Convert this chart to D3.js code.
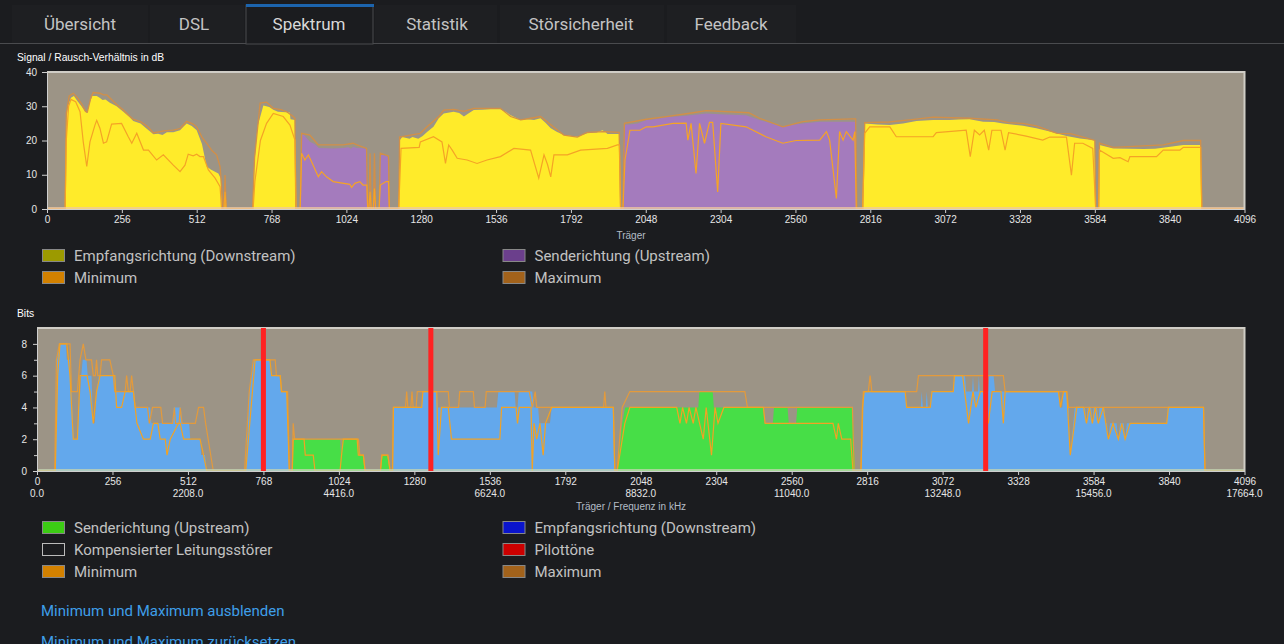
<!DOCTYPE html>
<html>
<head>
<meta charset="utf-8">
<script src="https://cdn.jsdelivr.net/npm/d3@7"></script>
<style>
html, body { margin: 0; padding: 0; background: #1b1c1f; overflow: hidden; }
svg { display: block; }
text { font-family: "Liberation Sans", Arial, sans-serif; }
.ui { font-family: Roboto, "Open Sans", sans-serif; }
</style>
</head>
<body>
<svg id="page" width="1284" height="644"></svg>
<script>
// ---- data ----
const tabNames = ["Übersicht", "DSL", "Spektrum", "Statistik", "Störsicherheit", "Feedback"];
const activeTab = "Spektrum";

const carrierTicks = [0, 256, 512, 768, 1024, 1280, 1536, 1792, 2048, 2304, 2560, 2816, 3072, 3328, 3584, 3840, 4096];
const freqTickCarriers = [0, 512, 1024, 1536, 2048, 2560, 3072, 3584, 4096];
const freqLabels = ["0.0", "2208.0", "4416.0", "6624.0", "8832.0", "11040.0", "13248.0", "15456.0", "17664.0"];
const snrTicks = [0, 10, 20, 30, 40];
const bitTicks = [0, 2, 4, 6, 8];
const bitMinorTicks = [1, 3, 5, 7];

// SNR in dB, [carrier, value]
const snrDown = [[0,0],[62,0],[66,26],[72,30],[82,32.5],[92,33],[104,31.5],[118,30],[130,28.5],[137,28],[146,31],[155,33],[170,33],[180,32.5],[190,31.8],[200,32],[215,31],[238,30],[260,28.5],[280,27],[295,25.7],[320,25],[340,23.5],[364,21.8],[380,22],[395,21.6],[410,22.4],[432,22.4],[455,23],[470,24.3],[478,25],[495,24.2],[512,23],[530,19],[546,12.4],[560,11.5],[586,10.4],[594,9],[597,0],[605,0],[609,5],[613,0],
  [703,0],[708,12],[720,24],[740,30.2],[760,29.8],[774,29],[790,28.4],[830,28.2],[833,26.2],[848,26],[850,0],
  [1203,0],[1206,20],[1215,21],[1240,20.5],[1250,21],[1270,20.5],[1285,21.3],[1300,22.5],[1322,24],[1340,26.5],[1357,27.9],[1391,28.4],[1410,28],[1426,27],[1440,27.8],[1460,28.9],[1490,29],[1517,29.1],[1551,29.1],[1570,28.3],[1586,27.4],[1620,26],[1640,26.2],[1666,26],[1688,26.5],[1705,25.2],[1723,23.6],[1745,22.5],[1768,21.6],[1814,21.1],[1848,22.1],[1880,22.3],[1900,23],[1910,22.5],[1917,21.9],[1957,21.9],[1962,0],
  [2790,0],[2797,25],[2840,24.7],[2883,24.5],[2928,25],[2974,25.7],[3031,26],[3088,26],[3120,26.1],[3156,26.2],[3202,25.5],[3240,25.4],[3270,25],[3338,24.3],[3384,23.6],[3430,22.6],[3487,21.3],[3533,20.6],[3584,20.1],[3587,0],[3597,0],[3600,18.7],[3647,17.7],[3750,17.5],[3790,17.6],[3830,18],[3887,18.7],[3946,18.7],[3950,0],[4096,0]];

const snrUp = [[0,0],[866,0],[870,21.8],[880,21.5],[899,19.6],[915,19],[930,17.8],[980,17.7],[1013,17.8],[1030,18],[1040,17.6],[1047,18.2],[1060,17.8],[1088,17.7],[1094,17.5],[1097,0],[1101,0],[1105,16],[1109,0],[1116,0],[1120,16],[1124,0],[1136,0],[1140,16],[1160,15.5],[1168,15],[1171,0],
  [1970,0],[1974,24.5],[2020,25],[2050,26],[2080,26.2],[2118,26.8],[2186,27.2],[2255,27.9],[2300,27.7],[2391,27.4],[2437,26],[2480,25],[2517,24],[2550,24.6],[2585,25],[2643,25.5],[2757,25.5],[2766,25.4],[2770,0],[4096,0]];

const snrMin = [[0,0],[62,0],[66,20],[74,30],[82,32],[98,31.3],[113,28.4],[124,19.6],[136,12.4],[147,19.6],[164,24.5],[170,25.9],[181,23.6],[193,19.2],[204,19.6],[221,24.8],[255,25],[278,21.1],[290,19.2],[307,22.1],[330,17.2],[347,17.2],[375,14.3],[398,15.8],[432,12.8],[455,10.9],[472,12.8],[483,16],[500,15.5],[512,16],[523,15.3],[535,15.3],[552,11.4],[575,9],[592,6.5],[597,0],[605,0],[609,5],[613,0],
  [705,0],[711,8],[730,20],[751,25],[774,27.9],[808,27],[831,24.5],[848,20.1],[852,0],
  [866,0],[871,16.3],[882,14.3],[894,15.8],[905,13.8],[928,9.4],[939,10.9],[956,9.4],[979,8],[1036,7.2],[1042,6.3],[1053,7.5],[1070,8],[1081,7],[1094,7],[1097,0],[1101,0],[1105,5],[1109,0],[1116,0],[1120,6],[1124,0],[1136,0],[1140,7],[1160,8],[1168,8],[1171,0],
  [1203,0],[1211,17.7],[1273,18],[1277,19.6],[1322,21.1],[1351,19.6],[1363,13.3],[1374,18.7],[1386,17.2],[1403,14.8],[1437,14.3],[1471,13.3],[1505,14.3],[1551,15.3],[1597,17.7],[1654,17.2],[1682,9],[1700,15.8],[1712,13],[1723,9.4],[1734,15.8],[1780,15.8],[1825,17.2],[1917,17.7],[1951,18.7],[1958,18.7],[1962,0],
  [1970,0],[1977,14.3],[1994,23],[2028,23],[2050,24],[2073,24],[2141,25],[2186,25.1],[2192,20.1],[2203,25],[2220,10.4],[2232,25],[2249,19.2],[2266,25.3],[2277,25.3],[2294,5],[2305,25],[2391,24],[2459,21.1],[2517,19.2],[2562,20],[2643,20.1],[2666,22.6],[2677,20.1],[2700,3.1],[2711,22.6],[2723,20.1],[2734,22.6],[2757,20.1],[2763,22.6],[2768,0],
  [2790,0],[2797,22.1],[2814,24],[2848,24],[2883,24],[2905,21.1],[3031,21.1],[3042,22.3],[3144,23],[3158,15.3],[3172,23],[3190,21.6],[3206,23],[3221,17.2],[3232,23],[3263,23],[3277,17.2],[3289,22.3],[3349,21.3],[3406,20.1],[3430,21],[3487,21],[3504,9.9],[3515,19.2],[3543,19.2],[3577,17.7],[3587,0],[3597,0],[3600,17.2],[3647,14.8],[3670,15],[3698,13.8],[3704,15.3],[3795,15.3],[3818,17.2],[3875,17.2],[3887,18],[3946,18],[3950,0],[4096,0]];

const snrMax = [[0,0],[62,0],[66,28],[76,33],[90,33.8],[104,32.5],[120,30.5],[132,28.5],[138,28.3],[150,32.5],[158,34],[181,33.8],[193,33.3],[205,33.3],[238,30.5],[260,29],[280,27.3],[295,26.2],[320,25.5],[345,24],[364,22.2],[400,22.8],[432,23],[455,23.5],[478,25.6],[500,24.8],[512,24],[530,21],[546,19.2],[565,17],[580,15.8],[592,12.4],[603,0],[605,0],[609,9.9],[613,0],
  [703,0],[710,15],[729,30.9],[751,31.2],[774,29.4],[800,29],[820,28.4],[842,27],[848,26.5],[851,0],
  [866,0],[871,22.1],[899,21.6],[915,20],[928,18.7],[1013,18.7],[1047,19.2],[1060,18.7],[1093,17.7],[1097,0],[1101,0],[1105,16.3],[1109,0],[1116,0],[1120,16.3],[1124,0],[1136,0],[1140,16.3],[1168,15.5],[1171,0],
  [1203,0],[1206,21],[1277,22.1],[1300,24],[1340,27],[1357,28.9],[1391,29.1],[1426,28.5],[1460,29.4],[1551,29.4],[1586,27],[1620,26],[1654,26.5],[1688,27],[1734,23.9],[1768,21.6],[1814,21],[1848,22.4],[1905,22.6],[1957,22.4],[1962,0],
  [1970,0],[1975,25],[2050,26.2],[2118,27],[2210,28.1],[2255,28.7],[2400,28.1],[2437,26.5],[2517,24],[2585,25.5],[2643,26],[2757,26.3],[2766,26.3],[2770,0],
  [2790,0],[2797,25.2],[2880,25.4],[2950,26],[3031,26.8],[3156,26.5],[3250,26],[3289,25.2],[3338,25],[3384,24.3],[3455,22.1],[3500,22],[3533,21.3],[3584,20],[3587,0],[3597,0],[3600,19.2],[3647,18],[3818,18.7],[3887,20],[3946,20],[3950,0],[4096,0]];

// bit loading, [carrier, bits]
const bitsDown = [[0,0],[62,0],[68,7],[76,8],[98,8],[101,7],[112,7],[117,5],[125,2],[137,2],[143,4],[150,6],[155,7],[168,7],[172,6],[185,6],[190,3],[196,3],[202,5],[210,6],[264,6],[268,5],[330,5],[334,4],[384,4],[388,3],[460,3],[464,4],[488,4],[492,3],[516,3],[520,2],[553,2],[557,1],[570,1],[576,0],
  [708,0],[720,5],[735,7],[790,7],[794,6],[825,6],[829,5],[847,5],[856,0],
  [1206,0],[1209,4],[1305,4],[1309,5],[1356,5],[1360,4],[1560,4],[1565,5],[1620,5],[1624,4],[1630,4],[1634,5],[1680,5],[1685,4],[1700,4],[1704,3],[1740,3],[1746,4],[1955,4],[1960,0],
  [2795,0],[2800,4],[2806,5],[2945,5],[2949,4],[2998,4],[3001,5],[3005,4],[3015,4],[3018,5],[3022,4],[3029,4],[3033,5],[3108,5],[3112,6],[3148,6],[3152,5],[3172,5],[3175,6],[3178,5],[3192,5],[3195,6],[3198,5],[3227,5],[3230,6],[3245,6],[3250,5],[3465,5],[3470,4],[3478,4],[3482,5],[3493,5],[3497,4],[3500,4],[3505,1],[3520,4],[3555,4],[3560,3],[3564,4],[3576,4],[3580,3],[3584,4],[3596,4],[3600,3],[3604,4],[3620,4],[3625,3],[3630,3],[3634,2],[3640,3],[3662,3],[3668,2],[3674,3],[3686,3],[3691,2],[3697,3],[3832,3],[3836,4],[3957,4],[3962,0],[4096,0]];

const bitsUp = [[0,0],[866,0],[869,2],[1028,2],[1031,1],[1036,2],[1090,2],[1092,1],[1107,1],[1113,0],[1165,0],[1170,1],[1190,1],[1198,0],
  [1968,0],[1985,3],[1995,4],[2243,4],[2247,5],[2292,5],[2296,4],[2463,4],[2467,3],[2496,3],[2500,4],[2546,4],[2550,3],[2575,3],[2579,4],[2766,4],[2775,0],[4096,0]];

const bitsMin = [[0,0],[62,0],[70,6],[78,8],[101,8],[112,6],[123,2],[137,2],[146,6],[170,6],[180,5],[191,3],[202,5],[214,6],[264,6],[270,4],[287,4],[299,5],[327,5],[339,3],[361,2],[384,2],[395,3],[410,3],[418,2],[435,2],[441,1],[452,2],[480,3],[486,3],[497,2],[553,2],[565,1],[576,0],
  [708,0],[740,7],[790,7],[796,6],[825,6],[830,5],[847,5],[856,0],
  [866,0],[869,2],[906,2],[910,1],[937,1],[943,0],[1028,0],[1033,1],[1039,2],[1086,2],[1090,1],[1107,1],[1113,0],[1165,0],[1170,1],[1190,1],[1198,0],
  [1206,0],[1209,4],[1305,4],[1309,5],[1356,5],[1361,1],[1372,4],[1395,4],[1406,2],[1570,2],[1576,4],[1625,4],[1630,3],[1636,4],[1676,4],[1680,0],[1686,3],[1695,2],[1706,3],[1717,1],[1725,3],[1746,4],[1955,4],[1960,0],
  [1968,0],[1994,3],[2011,4],[2170,4],[2181,3],[2190,4],[2203,3],[2212,4],[2226,3],[2235,4],[2260,2],[2270,4],[2288,1],[2300,4],[2310,3],[2330,4],[2464,4],[2470,3],[2700,3],[2712,2],[2718,3],[2730,2],[2760,2],[2768,0],
  [2795,0],[2800,4],[2806,5],[2945,5],[2950,4],[3030,4],[3036,5],[3108,5],[3112,6],[3140,6],[3160,3],[3175,5],[3185,4],[3200,5],[3210,5],[3227,3],[3240,5],[3270,5],[3278,3],[3284,5],[3465,5],[3472,4],[3482,5],[3493,5],[3505,1],[3527,4],[3550,4],[3560,3],[3570,4],[3580,3],[3590,4],[3600,3],[3617,4],[3634,2],[3650,3],[3668,2],[3680,3],[3691,2],[3708,3],[3832,3],[3838,4],[3957,4],[3962,0],[4096,0]];

const bitsMax = [[0,0],[60,0],[66,7],[76,8],[112,8],[117,5],[137,5],[146,7],[157,8],[166,7],[185,7],[191,6],[198,6],[202,7],[206,6],[214,6],[219,7],[247,7],[259,6],[264,5],[299,5],[304,6],[310,5],[316,5],[321,6],[327,5],[333,4],[375,4],[381,3],[392,4],[420,4],[426,3],[460,3],[466,4],[470,3],[482,3],[486,4],[492,3],[537,3],[548,4],[565,4],[572,3],[598,0],
  [704,0],[720,5],[734,7],[808,7],[812,6],[825,6],[829,5],[850,5],[856,0],
  [866,0],[869,3],[874,2],[1090,2],[1095,1],[1107,1],[1113,0],[1165,0],[1170,1],[1190,1],[1198,0],
  [1206,0],[1209,4],[1250,4],[1254,5],[1258,4],[1268,4],[1272,5],[1276,4],[1286,4],[1290,5],[1330,5],[1336,6],[1342,5],[1395,5],[1399,4],[1430,4],[1434,5],[1480,5],[1484,4],[1520,4],[1524,5],[1670,5],[1680,4],[1690,5],[1695,4],[1922,4],[1926,5],[1930,4],[1955,4],[1960,0],
  [1968,0],[1985,4],[2011,5],[2401,5],[2410,4],[2766,4],[2772,0],
  [2795,0],[2803,5],[2820,5],[2826,6],[2832,5],[2984,5],[2990,6],[3278,6],[3284,5],[3493,5],[3499,4],[3957,4],[3962,0],[4096,0]];

const pilotTones = [768, 1336, 3218];

const snrLegend = [["Empfangsrichtung (Downstream)", "#9c9a00", "#888"], ["Senderichtung (Upstream)", "#6b3f8c", "#888"], ["Minimum", "#d38100", "#888"], ["Maximum", "#a2621b", "#888"]];
const bitsLegend = [["Senderichtung (Upstream)", "#3ccc14", "#888"], ["Empfangsrichtung (Downstream)", "#0a14cc", "#888"], ["Kompensierter Leitungsstörer", "#1b1c1f", "#bbb"], ["Pilottöne", "#cc0000", "#888"], ["Minimum", "#d38100", "#888"], ["Maximum", "#a2621b", "#888"]];
const links = ["Minimum und Maximum ausblenden", "Minimum und Maximum zurücksetzen"];

// ---- page ----
const svg = d3.select("#page");

// tab bar
const tabBoxes = [[12, 148], [150, 244], [246, 373], [375, 497], [500, 664], [667, 796]];
const tabCenters = [80, 194, 309, 437, 581, 731];
svg.append("line").attr("x1", 0).attr("x2", 1284).attr("y1", 43.5).attr("y2", 43.5)
  .attr("stroke", "#4a4b4e");
tabNames.forEach((name, i) => {
  const [x0, x1] = tabBoxes[i];
  const active = name === activeTab;
  if (active) {
    svg.append("rect").attr("x", x0).attr("y", 5).attr("width", x1 - x0).attr("height", 39)
      .attr("fill", "#1b1c1f").attr("stroke", "#4a4b4e");
    svg.append("rect").attr("x", x0).attr("y", 4).attr("width", x1 - x0 + 1).attr("height", 3)
      .attr("fill", "#1c64ad");
  } else {
    svg.append("rect").attr("x", x0).attr("y", 5).attr("width", x1 - x0).attr("height", 38)
      .attr("fill", "#1e1f22");
  }
  svg.append("text").attr("class", "ui").attr("x", tabCenters[i]).attr("y", 30)
    .attr("text-anchor", "middle").attr("font-size", 17)
    .attr("fill", active ? "#d8d8d8" : "#c4c4c4").text(name);
});

function styleAxis(g) {
  g.select(".domain").attr("stroke", "#cfcfcf");
  g.selectAll(".tick line").attr("stroke", "#cfcfcf");
  g.selectAll(".tick text").attr("fill", "#e6e6e6").attr("font-size", 10)
    .attr("font-family", "Liberation Sans, Arial, sans-serif");
}

function drawLegend(items, y0) {
  items.forEach((d, i) => {
    const col = i % 2, row = Math.floor(i / 2);
    const x = col === 0 ? 42 : 502.5;
    const y = y0 + row * 22;
    svg.append("rect").attr("x", x + 0.5).attr("y", y - 5.5).attr("width", 22).attr("height", 12)
      .attr("fill", d[1]).attr("stroke", d[2]);
    svg.append("text").attr("class", "ui").attr("x", x + 32).attr("y", y + 5.5)
      .attr("font-size", 15).attr("fill", "#c2c2c2").text(d[0]);
  });
}

const intFmt = d3.format("d");

// ---- SNR chart ----
{
  const x = d3.scaleLinear().domain([0, 4096]).range([47, 1244.5]);
  const y = d3.scaleLinear().domain([0, 40]).range([209, 72]);
  const g = svg.append("g");

  g.append("text").attr("x", 17).attr("y", 61).attr("font-size", 10.3).attr("fill", "#fff")
    .text("Signal / Rausch-Verhältnis in dB");

  g.append("rect").attr("x", x(0)).attr("y", y(40)).attr("width", x(4096) - x(0))
    .attr("height", y(0) - y(40)).attr("fill", "#9c9486");

  const area = d3.area().x(d => x(d[0])).y0(y(0)).y1(d => y(d[1]));
  const line = d3.line().x(d => x(d[0])).y(d => y(d[1]));

  g.append("path").attr("d", area(snrDown)).attr("fill", "#ffeb2a");
  g.append("path").attr("d", area(snrUp)).attr("fill", "#a47bbd");
  g.append("path").attr("d", line(snrMax)).attr("fill", "none")
    .attr("stroke", "#d28f48").attr("stroke-width", 1.3);
  g.append("path").attr("d", line(snrMin)).attr("fill", "none")
    .attr("stroke", "#f5a326").attr("stroke-width", 1.2);
  g.append("line").attr("x1", x(0)).attr("x2", x(4096)).attr("y1", y(0) - 1).attr("y2", y(0) - 1)
    .attr("stroke", "#efc9a0").attr("stroke-width", 1.5);

  // frame
  g.append("path").attr("d", `M${x(0)},${y(40)}H${x(4096)}V${y(0)}`)
    .attr("fill", "none").attr("stroke", "#d0cdc6").attr("stroke-width", 2);

  g.append("g").attr("transform", `translate(0,${y(0)})`)
    .call(d3.axisBottom(x).tickValues(carrierTicks).tickFormat(intFmt).tickSize(4).tickPadding(3).tickSizeOuter(0))
    .call(styleAxis);
  g.append("g").attr("transform", `translate(${x(0)},0)`)
    .call(d3.axisLeft(y).tickValues(snrTicks).tickFormat(intFmt).tickSize(5).tickPadding(5).tickSizeOuter(0))
    .call(styleAxis);

  g.append("text").attr("x", 631).attr("y", 239).attr("text-anchor", "middle")
    .attr("font-size", 10).attr("fill", "#b4bcc6").text("Träger");
}

drawLegend(snrLegend, 255);

// ---- bits chart ----
{
  const x = d3.scaleLinear().domain([0, 4096]).range([37, 1244.5]);
  const y = d3.scaleLinear().domain([0, 9]).range([471, 328]);
  const g = svg.append("g");

  g.append("text").attr("x", 17).attr("y", 317).attr("font-size", 10.3).attr("fill", "#fff")
    .text("Bits");

  g.append("rect").attr("x", x(0)).attr("y", y(9)).attr("width", x(4096) - x(0))
    .attr("height", y(0) - y(9)).attr("fill", "#9c9486");

  const area = d3.area().x(d => x(d[0])).y0(y(0)).y1(d => y(d[1]));
  const line = d3.line().x(d => x(d[0])).y(d => y(d[1]));

  g.append("path").attr("d", area(bitsDown)).attr("fill", "#63a8ec");
  g.append("path").attr("d", area(bitsUp)).attr("fill", "#47de47");
  g.append("path").attr("d", line(bitsMax)).attr("fill", "none")
    .attr("stroke", "#e39a3c").attr("stroke-width", 1.2);
  g.append("path").attr("d", line(bitsMin)).attr("fill", "none")
    .attr("stroke", "#f2a224").attr("stroke-width", 1.2);
  g.append("line").attr("x1", x(0)).attr("x2", x(4096)).attr("y1", y(0) - 1).attr("y2", y(0) - 1)
    .attr("stroke", "#c6d6b2").attr("stroke-width", 1.5);

  g.append("path").attr("d", `M${x(0)},${y(9)}H${x(4096)}V${y(0)}`)
    .attr("fill", "none").attr("stroke", "#d0cdc6").attr("stroke-width", 2);

  g.selectAll("rect.pilot").data(pilotTones).join("rect").attr("class", "pilot")
    .attr("x", d => x(d) - 2.5).attr("y", y(9)).attr("width", 5).attr("height", y(0) - y(9))
    .attr("fill", "#ff2222");

  g.append("g").attr("transform", `translate(0,${y(0)})`)
    .call(d3.axisBottom(x).tickValues(carrierTicks).tickFormat(intFmt).tickSize(4).tickPadding(3).tickSizeOuter(0))
    .call(styleAxis);
  g.append("g").selectAll("text").data(freqTickCarriers).join("text")
    .attr("x", d => x(d)).attr("y", 497).attr("text-anchor", "middle")
    .attr("font-size", 10).attr("fill", "#e6e6e6").text((d, i) => freqLabels[i]);

  g.append("g").attr("transform", `translate(${x(0)},0)`)
    .call(d3.axisLeft(y).tickValues(bitTicks).tickFormat(intFmt).tickSize(4).tickPadding(6).tickSizeOuter(0))
    .call(styleAxis);
  g.append("g").attr("transform", `translate(${x(0)},0)`)
    .call(d3.axisLeft(y).tickValues(bitMinorTicks).tickSize(3).tickFormat("").tickSizeOuter(0))
    .call(styleAxis);

  g.append("text").attr("x", 631).attr("y", 510).attr("text-anchor", "middle")
    .attr("font-size", 10).attr("fill", "#b4bcc6").text("Träger / Frequenz in kHz");
}

drawLegend(bitsLegend, 527);

links.forEach((t, i) => {
  svg.append("text").attr("class", "ui").attr("x", 41).attr("y", 616 + i * 31)
    .attr("font-size", 15).attr("fill", "#3f9fe9").text(t);
});
</script>
</body>
</html>
